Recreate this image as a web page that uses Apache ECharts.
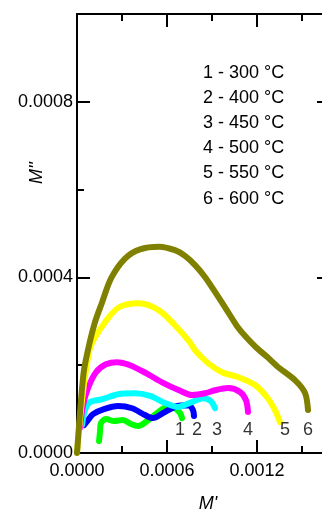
<!DOCTYPE html>
<html>
<head>
<meta charset="utf-8">
<script src="https://cdn.jsdelivr.net/npm/echarts@6/dist/echarts.min.js"></script>
<style>
  html, body { margin: 0; padding: 0; background: #fff; }
  #chart { width: 322px; height: 512px; }
</style>
</head>
<body>
<div id="chart"></div>
<script>
// Electric modulus plane: M'' against M' for six annealing temperatures
const legendLines = ['1 - 300 °C', '2 - 400 °C', '3 - 450 °C', '4 - 500 °C', '5 - 550 °C', '6 - 600 °C'];
const curveTags = ['1', '2', '3', '4', '5', '6'];
const curveColors = ['#00ff00', '#0000ff', '#00ffff', '#ff00ff', '#ffff00', '#808000'];

// curve 1 (300 °C)
const m1Re = [0.000147, 0.000153, 0.00016, 0.000193, 0.000247, 0.000307, 0.00036, 0.000407, 0.000467, 0.000533, 0.0006, 0.000653, 0.000687, 0.0007];
const m1Im = [0.0000273, 0.0000477, 0.0000682, 0.0000773, 0.0000727, 0.000075, 0.0000659, 0.0000614, 0.0000727, 0.0000909, 0.000105, 0.000102, 0.0000909, 0.0000795];
// curve 2 (400 °C)
const m2Re = [0.0000467, 0.0000733, 0.000107, 0.00018, 0.000273, 0.000367, 0.000453, 0.000507, 0.000573, 0.000667, 0.000747, 0.000773, 0.00078];
const m2Im = [0.0000636, 0.000075, 0.0000886, 0.0001, 0.000107, 0.000102, 0.0000864, 0.0000795, 0.0000909, 0.000107, 0.000109, 0.0000977, 0.0000841];
// curve 3 (450 °C)
const m3Re = [0.0000333, 0.0000533, 0.0000867, 0.000173, 0.000273, 0.000387, 0.000487, 0.000587, 0.000673, 0.000753, 0.00084, 0.000893, 0.00092];
const m3Im = [0.0000636, 0.0000977, 0.000116, 0.000123, 0.000134, 0.000136, 0.00013, 0.000114, 0.000105, 0.000114, 0.000125, 0.000118, 0.000102];
// curve 4 (500 °C)
const m4Re = [0.00002, 0.00004, 0.0000733, 0.000127, 0.000193, 0.000267, 0.000353, 0.00046, 0.000567, 0.00068, 0.000767, 0.000853, 0.00092, 0.001007, 0.001087, 0.001127, 0.00114];
const m4Im = [0.0000568, 0.000109, 0.000148, 0.000184, 0.000202, 0.000207, 0.0002, 0.000182, 0.000161, 0.000143, 0.000132, 0.000136, 0.000143, 0.000148, 0.000139, 0.00012, 0.0000932];
// curve 5 (550 °C)
const m5Re = [0, 0.0000133, 0.0000333, 0.00006, 0.0000933, 0.000187, 0.00028, 0.000413, 0.000547, 0.000653, 0.000753, 0.000787, 0.000873, 0.000967, 0.001073, 0.001187, 0.001267, 0.00132, 0.001353];
const m5Im = [0, 0.0000523, 0.00012, 0.000189, 0.000245, 0.000298, 0.000332, 0.000341, 0.000325, 0.000291, 0.000252, 0.000234, 0.000205, 0.000184, 0.000173, 0.000155, 0.000127, 0.0000977, 0.0000705];
// curve 6 (600 °C)
const m6Re = [0, 0.0000067, 0.0000267, 0.0000467, 0.00008, 0.00012, 0.000167, 0.000227, 0.00032, 0.00042, 0.000547, 0.000653, 0.00072, 0.000787, 0.000853, 0.00092, 0.001007, 0.001067, 0.001127, 0.001193, 0.001267, 0.00134, 0.001453, 0.00152, 0.00154];
const m6Im = [0, 0.00003, 0.00012, 0.000189, 0.000245, 0.000298, 0.000343, 0.000398, 0.000443, 0.000464, 0.00047, 0.000462, 0.000449, 0.000428, 0.000401, 0.000367, 0.000321, 0.000289, 0.000264, 0.000241, 0.000219, 0.000196, 0.000166, 0.000137, 0.000098];

// anchor of each curve number, in axis units
const tagRe = [0.000687, 0.0008, 0.000933, 0.00114, 0.001387, 0.00154];
const tagIm = [0.0000524, 0.0000524, 0.0000524, 0.0000524, 0.0000524, 0.0000524];

const curvesRe = [m1Re, m2Re, m3Re, m4Re, m5Re, m6Re];
const curvesIm = [m1Im, m2Im, m3Im, m4Im, m5Im, m6Im];

const FONT = 'Liberation Sans, Arial, sans-serif';
const fmt = v => v.toFixed(4);
const zip = (a, b) => a.map((v, i) => [v, b[i]]);

const lineSeries = curvesRe.map((re, i) => ({
  type: 'line',
  name: curveTags[i],
  data: zip(re, curvesIm[i]),
  xAxisIndex: 0,
  yAxisIndex: 0,
  showSymbol: false,
  symbol: 'none',
  smooth: 0.3,
  lineStyle: { color: curveColors[i], width: 6, cap: 'round', join: 'round' },
  itemStyle: { color: curveColors[i] },
  z: 2 + i
}));

const tagSeries = {
  type: 'scatter',
  xAxisIndex: 0,
  yAxisIndex: 0,
  symbolSize: 0,
  data: tagRe.map((x, i) => [x, tagIm[i], curveTags[i]]),
  label: {
    show: true,
    position: 'inside',
    formatter: p => p.value[2],
    color: '#000',
    fontSize: 18,
    fontFamily: FONT
  },
  z: 10
};

const axisLineStyle = { show: true, onZero: false, lineStyle: { color: '#000', width: 2 } };
const majorTick = { show: true, inside: true, length: 13, lineStyle: { color: '#000', width: 2 } };
const minorTick = { show: true, splitNumber: 2, length: 7, lineStyle: { color: '#000', width: 2 } };
const labelStyle = { color: '#000', fontSize: 18, fontFamily: FONT, formatter: fmt, showMaxLabel: false, hideOverlap: false };

const option = {
  animation: false,
  backgroundColor: '#fff',
  title: {
    text: legendLines.join('\n'),
    left: 203,
    top: 60,
    padding: 0,
    textStyle: { fontSize: 18, fontWeight: 'normal', fontFamily: FONT, color: '#000', lineHeight: 25.2 }
  },
  grid: [
    // main plot area; its right border lies just past the page edge
    { left: 77, top: 14, width: 270, height: 439, containLabel: false, outerBoundsMode: 'none' },
    // carries the right-hand frame axis and the half-step ticks on the left
    { left: 77, top: 14, width: 253, height: 439, containLabel: false, outerBoundsMode: 'none' }
  ],
  xAxis: [
    {
      type: 'value', gridIndex: 0, position: 'bottom', min: 0, max: 0.0018, interval: 0.0006,
      axisLine: axisLineStyle, axisTick: majorTick, minorTick: minorTick,
      splitLine: { show: false }, minorSplitLine: { show: false },
      axisLabel: Object.assign({}, labelStyle, { margin: 9 })
    },
    {
      type: 'value', gridIndex: 0, position: 'top', min: 0, max: 0.0018, interval: 0.0006,
      axisLine: axisLineStyle, axisTick: majorTick, minorTick: minorTick,
      splitLine: { show: false }, minorSplitLine: { show: false },
      axisLabel: { show: false }
    },
    {
      type: 'value', gridIndex: 1, show: false, min: 0, max: 1
    }
  ],
  yAxis: [
    {
      type: 'value', gridIndex: 0, position: 'left', min: 0, max: 0.001, interval: 0.0004,
      axisLine: axisLineStyle, axisTick: majorTick,
      splitLine: { show: false },
      axisLabel: Object.assign({}, labelStyle, { margin: 4 })
    },
    {
      // half-step ticks on the left axis
      type: 'value', gridIndex: 1, position: 'left', min: 0, max: 0.001, interval: 0.0002,
      axisLine: { show: false, onZero: false },
      axisTick: { show: true, inside: true, length: 7, lineStyle: { color: '#000', width: 2 } },
      splitLine: { show: false },
      axisLabel: { show: false }
    },
    {
      type: 'value', gridIndex: 1, position: 'right', min: 0, max: 0.001, interval: 0.0004,
      axisLine: axisLineStyle, axisTick: majorTick,
      splitLine: { show: false },
      axisLabel: { show: false }
    }
  ],
  graphic: [
    {
      type: 'text', x: 208, y: 504,
      style: { text: "M'", font: 'italic 18px ' + FONT, fill: '#000', align: 'center', verticalAlign: 'middle' }
    },
    {
      type: 'text', x: 37, y: 173, rotation: Math.PI / 2,
      style: { text: "M''", font: 'italic 18px ' + FONT, fill: '#000', align: 'center', verticalAlign: 'middle' }
    }
  ],
  series: lineSeries.concat([tagSeries])
};

const chart = echarts.init(document.getElementById('chart'), null, { renderer: 'canvas' });
chart.setOption(option);
</script>
</body>
</html>
